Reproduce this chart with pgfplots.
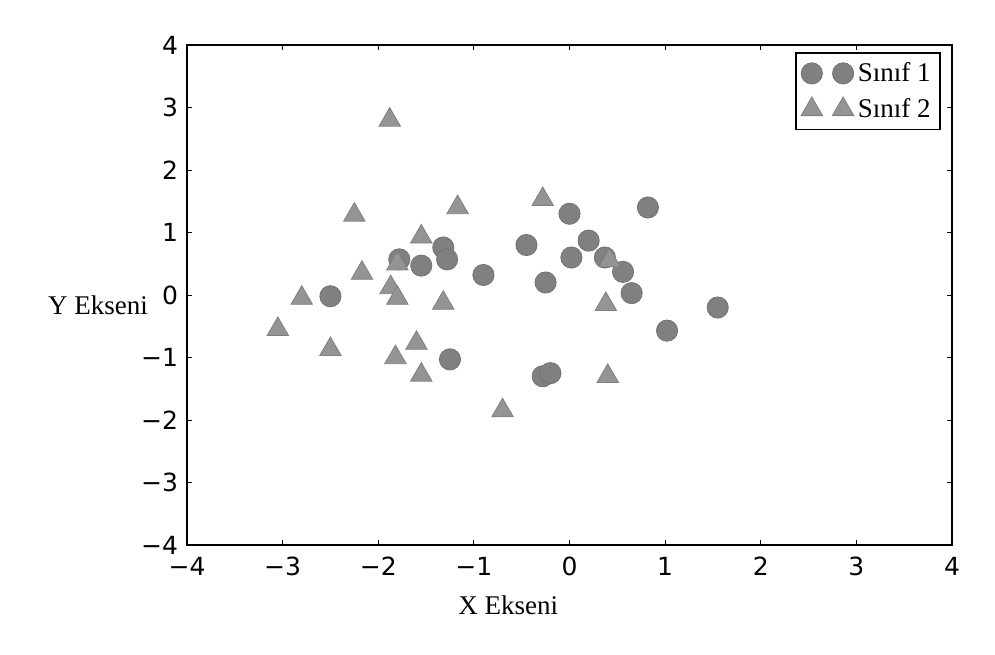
\documentclass[border=0pt]{standalone}
\usepackage{fontspec}
\setmainfont{Liberation Serif}
\newfontfamily\tickfont{DejaVu Sans}
\usepackage{pgfplots}
\pgfplotsset{compat=1.18}
\begin{document}
\begin{tikzpicture}
\begin{axis}[
  width=382.5pt, height=250pt, scale only axis,
  xmin=-4, xmax=4, ymin=-4, ymax=4,
  xtick={-4,...,4}, ytick={-4,...,4},
  xticklabels={−4,−3,−2,−1,0,1,2,3,4},
  yticklabels={−4,−3,−2,−1,0,1,2,3,4},
  ticklabel style={font=\tickfont\fontsize{12.5}{14}\selectfont},
  xticklabel style={yshift=-2.5pt},
  yticklabel style={xshift=-1pt},
  tick align=inside, major tick length=2.5pt,
  tick style={black, line width=0.5pt},
  axis line style={line width=1.1pt},
  xlabel={X Ekseni}, ylabel={Y Ekseni},
  every axis x label/.style={at={(rel axis cs:0.42,0)}, anchor=north, yshift=-22pt, font=\fontsize{13.5}{16}\selectfont},
  every axis y label/.style={at={(rel axis cs:0,0.48)}, anchor=east, xshift=-16pt, font=\fontsize{13.5}{16}\selectfont},
  legend style={at={(0.985,0.985)}, anchor=north east, draw=black, line width=0.9pt,
    font=\fontsize{13.5}{16}\selectfont, row sep=3pt, inner sep=2.5pt},
  legend cell align=left,
  legend image code/.code={\draw plot coordinates {(0.05cm,0cm) (0.6cm,0cm)};\path (0.75cm,0cm);},
]
\addplot[only marks, mark=*, mark size=5.3pt, draw=black!55, fill=black!50, line width=0.4pt] coordinates {
(-2.5,-0.02) (-1.78,0.57) (-1.55,0.47) (-1.32,0.76) (-1.28,0.57) (-0.9,0.32)
(-1.25,-1.03) (-0.45,0.8) (-0.25,0.2) (-0.28,-1.3) (-0.2,-1.25) (0.0,1.3)
(0.02,0.6) (0.2,0.87) (0.37,0.6) (0.56,0.37) (0.65,0.03) (0.82,1.4)
(1.02,-0.57) (1.55,-0.2)
};
\addlegendentry{Sınıf 1}
\addplot[only marks, mark=triangle*, mark size=6.2pt, draw=black!50, fill=black!42, line width=0.4pt] coordinates {
(-3.05,-0.55) (-2.8,-0.05) (-2.5,-0.87) (-2.25,1.28) (-2.17,0.35) (-1.88,2.8)
(-1.87,0.12) (-1.8,-0.05) (-1.8,0.5) (-1.55,0.93) (-1.17,1.4) (-1.32,-0.13)
(-1.82,-1.0) (-1.6,-0.77) (-1.55,-1.28) (-0.7,-1.85) (-0.28,1.53) (0.38,-0.15)
(0.4,-1.3) (0.42,0.55)
};
\addlegendentry{Sınıf 2}
\end{axis}
\path ([shift={(-93.5pt,-54.5pt)}]current axis.south west) rectangle ([shift={(21.5pt,22.5pt)}]current axis.north east);
\end{tikzpicture}
\end{document}
